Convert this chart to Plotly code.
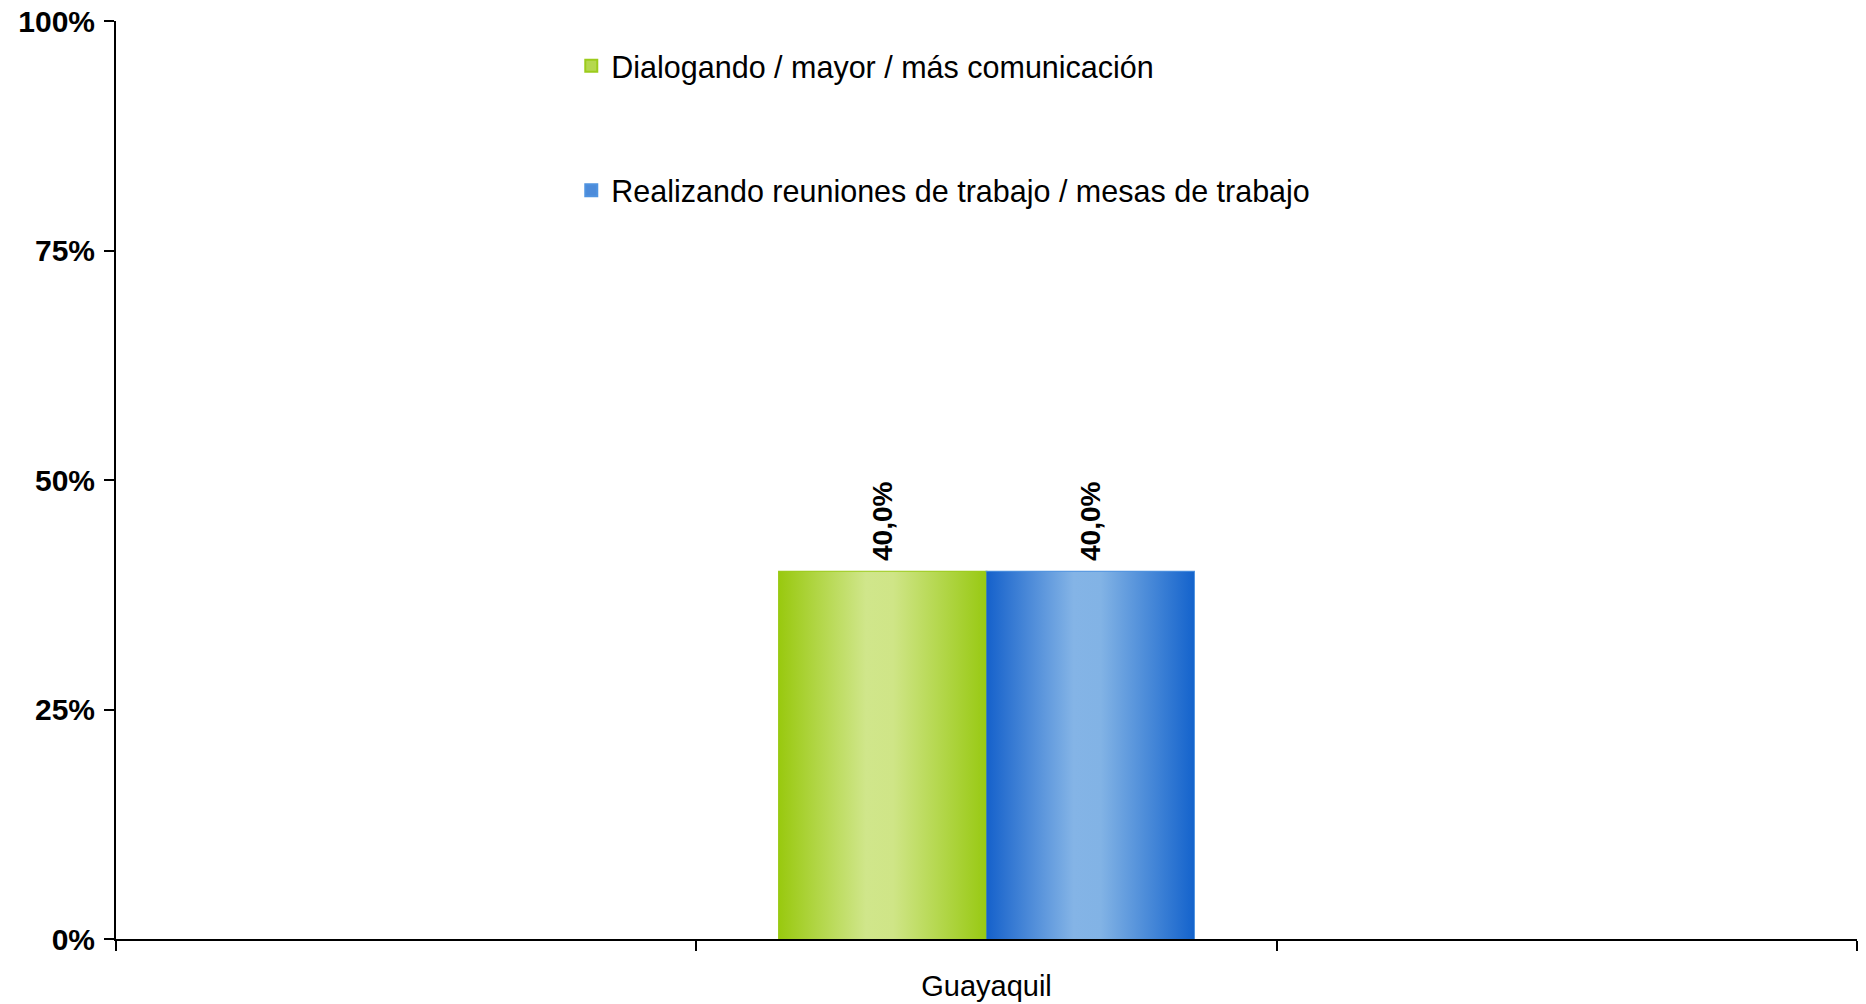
import plotly.graph_objects as go

# ---- data ----
category_slots = ["", "Guayaquil", ""]          # three category slots on the x axis
category_label = "Guayaquil"
series_names = [
    "Dialogando / mayor / más comunicación",
    "Realizando reuniones de trabajo / mesas de trabajo",
]
series_values = [0.40, 0.40]                     # share for Guayaquil
y_ticks = [0, 0.25, 0.5, 0.75, 1.0]

# ---- styles ----
solid_colors = ["#B5D84E", "#4C8BDA"]
edge_colors = ["#9CCB1C", "#4F93E0"]
gradients = [
    [[0, "#99C90F"], [0.42, "#D0E68B"], [0.55, "#CFE587"], [1, "#98C912"]],
    [[0, "#1561CB"], [0.42, "#84B4E6"], [0.55, "#82B3E5"], [1, "#1463CC"]],
]
bargap = 0.285
FONT = "Liberation Sans"

cat_pos = category_slots.index(category_label) + 0.5
n = len(series_names)
w = (1 - bargap) / n

fig = go.Figure()
for i, (name, val) in enumerate(zip(series_names, series_values)):
    fig.add_trace(go.Bar(
        x=[cat_pos], y=[val], name=name, width=w,
        marker=dict(color=solid_colors[i], line=dict(width=2, color=edge_colors[i])),
        offset=-w * n / 2 + i * w,
        text=["\u00a0" + f"{val*100:.1f}%".replace(".", ",")],
        textposition="outside", textangle=-90,
        textfont=dict(family=FONT, size=28, color="black", weight="bold"),
        cliponaxis=False,
        legendgroup=f"g{i}",
    ))

# gradient overlay on each bar, computed from the same values
for i, val in enumerate(series_values):
    x0 = cat_pos - w * n / 2 + i * w
    x1 = x0 + w
    fig.add_trace(go.Scatter(
        x=[x0, x1, x1, x0, x0], y=[0, 0, val, val, 0],
        mode="lines", line=dict(width=0, color="rgba(0,0,0,0)"),
        fill="toself",
        fillgradient=dict(type="horizontal", colorscale=gradients[i]),
        showlegend=False, hoverinfo="skip",
    ))

fig.update_layout(
    width=1866, height=1004,
    margin=dict(l=116, r=9, t=21, b=65),
    paper_bgcolor="white", plot_bgcolor="white",
    bargap=bargap, barmode="overlay",
    showlegend=True,
    legend=dict(
        x=0.2615, y=0.98, xanchor="left", yanchor="top",
        font=dict(family=FONT, size=30.5, color="black"),
        traceorder="grouped", tracegroupgap=82,
        bgcolor="rgba(0,0,0,0)",
    ),
    xaxis=dict(
        range=[0, len(category_slots)], automargin=False,
        tickmode="array", tickvals=[cat_pos], ticktext=[category_label],
        ticks="", ticklabelstandoff=20,
        tickfont=dict(family=FONT, size=29, color="black"),
        showline=True, linecolor="black", linewidth=2,
        showgrid=False, zeroline=False,
        minor=dict(tickmode="linear", tick0=0, dtick=1, ticks="outside",
                   ticklen=10, tickwidth=2, tickcolor="black", showgrid=False),
    ),
    yaxis=dict(
        range=[0, 1], automargin=False,
        tickmode="array", tickvals=y_ticks, tickformat=".0%",
        ticks="outside", ticklen=10, tickwidth=2, tickcolor="black",
        ticklabelstandoff=3,
        tickfont=dict(family=FONT, size=30, color="black", weight="bold"),
        showline=True, linecolor="black", linewidth=2,
        showgrid=False, zeroline=False,
    ),
)

fig.write_html(
    "out.html",
    config={"displayModeBar": False},
    post_script="document.body.style.margin='0px';document.body.style.overflow='hidden';",
)
